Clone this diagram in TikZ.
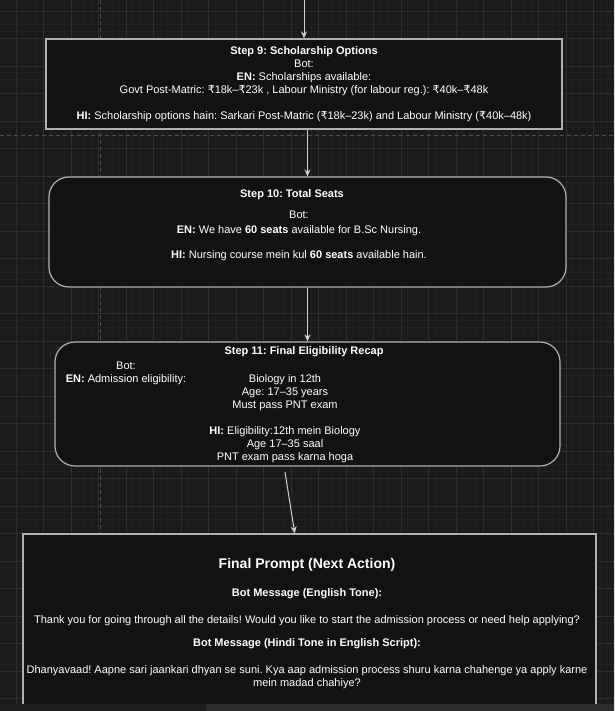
\documentclass[tikz,border=0pt]{standalone}
\usepackage{fontspec}
\setmainfont{Liberation Sans}
\newfontfamily\rupeefont{DejaVu Sans}
\newcommand{\rs}{{\rupeefont ₹}}
\usetikzlibrary{arrows.meta,positioning}
\frenchspacing

\definecolor{canvas}{HTML}{1A1A1A}
\definecolor{minorgrid}{HTML}{202020}
\definecolor{majorgrid}{HTML}{2E2E2E}
\definecolor{pageline}{HTML}{4E4E4E}
\definecolor{boxfill}{HTML}{121212}
\definecolor{boxline}{HTML}{B0B0B0}
\definecolor{wire}{HTML}{D0D0D0}
\definecolor{barbg}{HTML}{1F1F1F}
\definecolor{barthumb}{HTML}{2C2C2C}

\def\minorsep{6.875}
\def\majorsep{27.5}

\begin{document}
\begin{tikzpicture}[x=1pt,y=-1pt,font=\fontsize{11}{13}\selectfont]
        \tikzstyle{stepbox}=[draw=boxline,fill=boxfill,line width=1.2pt,inner sep=0pt]
        \tikzstyle{roundbox}=[stepbox,rounded corners=20pt]
        \tikzstyle{msg}=[text=white,align=center,inner sep=0pt]
        \tikzstyle{flow}=[draw=wire,line width=1pt,-{Stealth[length=7pt,width=6pt]}]

        \useasboundingbox (0,0) rectangle (614,711);
        \clip (0,0) rectangle (614,711);

        % Draw the canvas with its grid
        \fill[canvas] (0,0) rectangle (614,711);
        \foreach \i in {0,...,89}
            \draw[minorgrid,line width=0.8pt] (2.25+\i*\minorsep,0) -- (2.25+\i*\minorsep,711);
        \foreach \i in {0,...,103}
            \draw[minorgrid,line width=0.8pt] (0,4.125+\i*\minorsep) -- (614,4.125+\i*\minorsep);
        \foreach \i in {0,...,21}
            \draw[majorgrid,line width=0.8pt] (16+\i*\majorsep,0) -- (16+\i*\majorsep,711);
        \foreach \i in {0,...,25}
            \draw[majorgrid,line width=0.8pt] (0,11+\i*\majorsep) -- (614,11+\i*\majorsep);

        % Page borders
        \draw[pageline,line width=0.8pt,dash pattern=on 4pt off 3pt] (0,135) -- (614,135);
        \draw[pageline,line width=0.8pt,dash pattern=on 4pt off 3pt] (100,0) -- (100,711);

        % Draw the step boxes
        \node[stepbox,minimum width=516pt,minimum height=90pt,msg] (s9) at (304,84)
            {\textbf{Step 9: Scholarship Options}\\
             Bot:\\
             \textbf{EN:} Scholarships available:\\
             Govt Post-Matric: \rs18k–\rs23k , Labour Ministry (for labour reg.): \rs40k–\rs48k\\[13pt]
             \textbf{HI:} Scholarship options hain: Sarkari Post-Matric (\rs18k–23k) and Labour Ministry (\rs40k–48k)};
        \node[roundbox,minimum width=517pt,minimum height=110pt] (s10) at (307.5,232) {};
        \node[roundbox,minimum width=505pt,minimum height=124pt] (s11) at (307.5,404) {};
        \node[stepbox,minimum width=573pt,minimum height=186pt] (fin) at (309.5,627) {};

        % Texts of step 10
        \node[msg,font=\fontsize{11}{13}\selectfont\bfseries] (t10) at (292,195) {Step 10: Total Seats};
        \node[msg] (m10) at (299,236)
            {Bot:\\[2pt]
             \textbf{EN:} We have \textbf{60 seats} available for B.Sc Nursing.\\[12pt]
             \textbf{HI:} Nursing course mein kul \textbf{60 seats} available hain.};

        % Texts of step 11
        \node[msg,font=\fontsize{11}{13}\selectfont\bfseries] (t11) at (304,352) {Step 11: Final Eligibility Recap};
        \node[msg] (b11) at (126,373) {Bot:\\\textbf{EN:} Admission eligibility:};
        \node[msg] (m11) at (285,418.5)
            {Biology in 12th\\
             Age: 17–35 years\\
             Must pass PNT exam\\[13pt]
             \textbf{HI:} Eligibility:12th mein Biology\\
             Age 17–35 saal\\
             PNT exam pass karna hoga};

        % Texts of the final prompt
        \node[msg] (m12) at (307,623.5)
            {{\fontsize{14}{16}\selectfont\bfseries Final Prompt (Next Action)}\\[15pt]
             \textbf{Bot Message (English Tone):}\\[14pt]
             Thank you for going through all the details! Would you like to start the admission process or need help applying?\\[10pt]
             \textbf{Bot Message (Hindi Tone in English Script):}\\[14pt]
             Dhanyavaad! Aapne sari jaankari dhyan se suni. Kya aap admission process shuru karna chahenge ya apply karne\\
             mein madad chahiye?};

        % Connect the steps
        \coordinate (entry) at (304,0);
        \coordinate (tail) at (285,472);
        \draw[flow] (entry) -- (s9.north);
        \draw[flow] (s9.south -| s10.north) -- (s10.north);
        \draw[flow] (s10) -- (s11);
        \draw[flow] (tail) -- (fin);

        % Scroll bar at the bottom
        \fill[barbg] (0,704) rectangle (614,711);
        \fill[barthumb] (206,704) rectangle (614,711);
\end{tikzpicture}
\end{document}
